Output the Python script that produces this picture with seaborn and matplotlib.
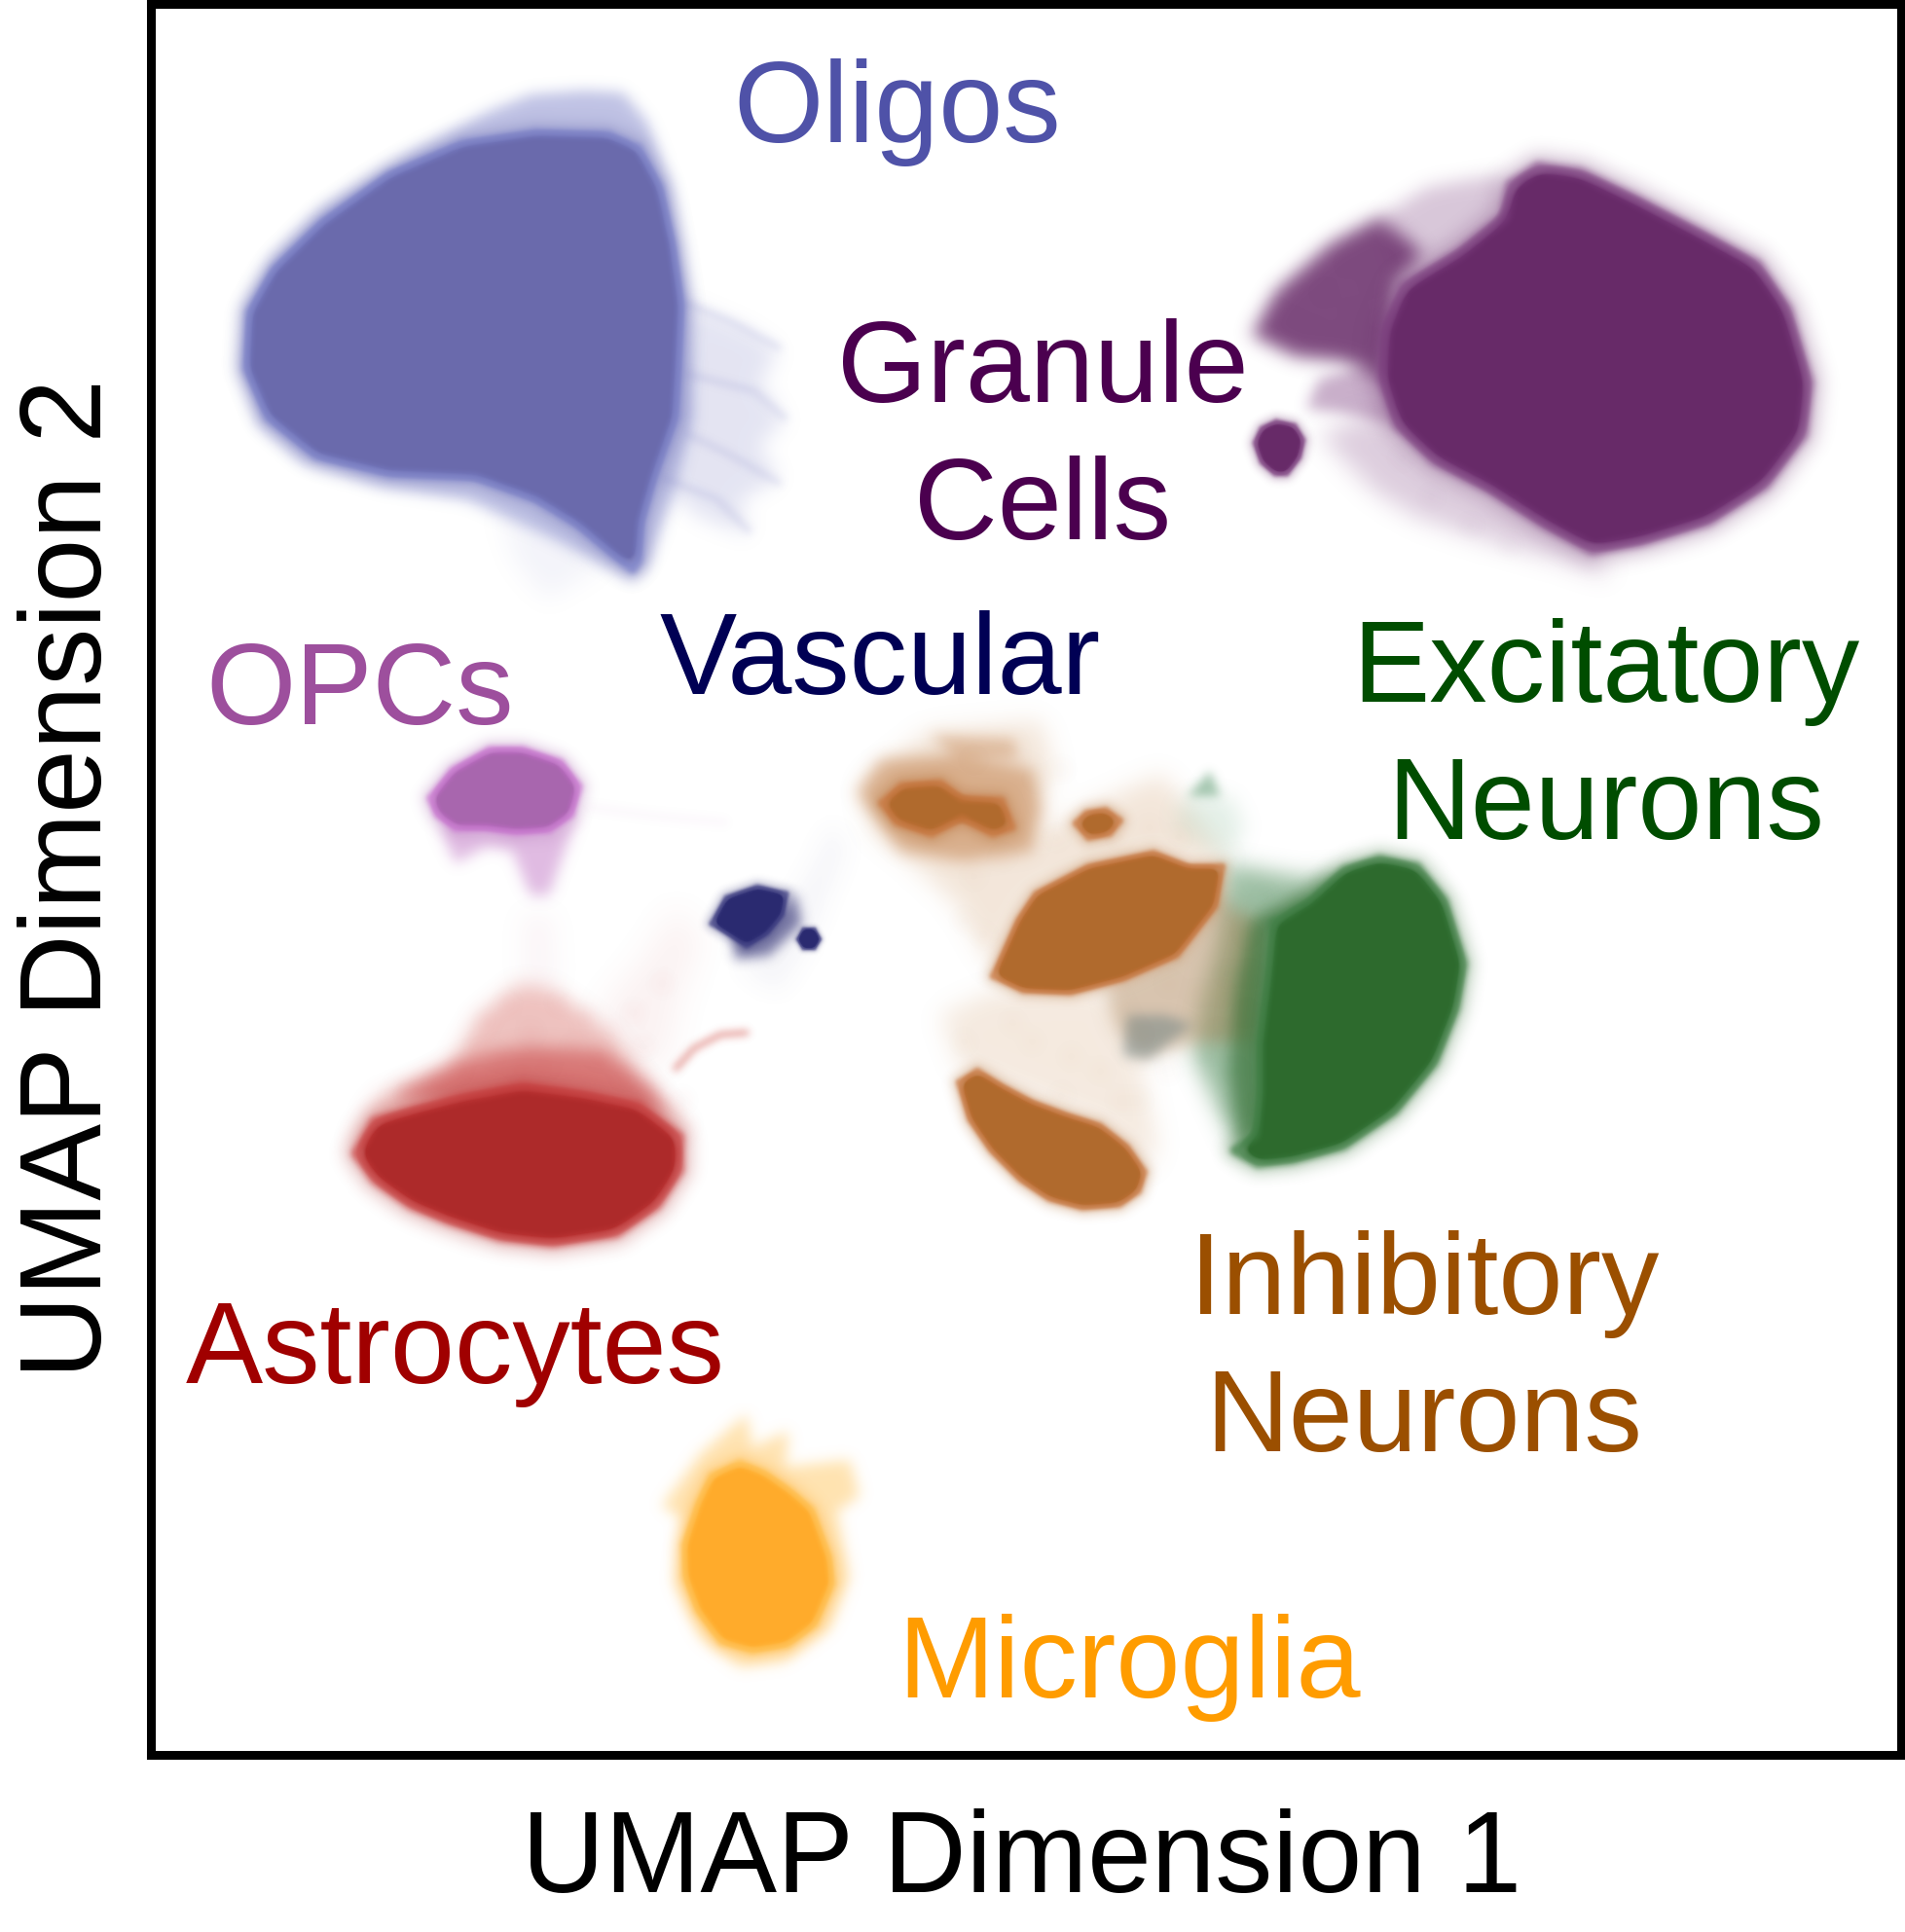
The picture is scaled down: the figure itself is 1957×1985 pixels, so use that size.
import matplotlib
matplotlib.use("Agg")
import matplotlib.pyplot as plt
from matplotlib.colors import to_rgb
import numpy as np
import pandas as pd
import seaborn as sns

# UMAP axes carry no ticks, so outlines are read off the picture in image pixels
X_RANGE = (154.5, 1953)
Y_RANGE = (1802.5, 4)

oligo_core = [(550,136),(625,138),(656,152),(678,192),(691,250),(700,313),(697,379),(694,429),(672,491),(659,536),(656,576),(650,585),(631,571),(594,540),(550,513),(488,491),(400,487),(325,469),(275,429),(253,379),(256,321),(281,277),(331,228),(400,179),(475,147)]
oligo_haze = [(500,115),(545,97),(600,93),(640,95),(665,125),(690,193),(710,314),(712,429),(690,514),(665,582),(650,596),(560,550),(480,514),(390,500),(310,475),(265,436),(245,379),(250,314),(280,264),(330,214),(420,157)]
oligo_right = [(706,312),(769,339),(800,361),(781,393),(806,433),(780,457),(800,493),(760,514),(770,550),(720,532),(680,500)]
oligo_below = [(512,527),(562,536),(625,576),(562,616),(531,580)]
oligo_strands = [
    [(706,312),(750,330),(800,357)],
    [(706,384),(775,402),(806,429)],
    [(706,446),(744,464),(800,496)],
    [(681,491),(737,513),(769,545)],
]

granule_core = [(1580,172),(1624,178),(1680,205),(1743,238),(1805,272),(1836,318),(1858,393),(1852,446),(1813,498),(1755,535),(1686,556),(1636,565),(1586,538),(1530,502),(1474,473),(1436,437),(1420,389),(1423,339),(1442,294),(1499,260),(1545,223),(1552,190)]
granule_wing = [(1286,344),(1311,299),(1367,250),(1417,223),(1461,259),(1436,290),(1424,389),(1380,371),(1330,366)]
granule_top = [(1417,223),(1467,192),(1542,179),(1549,223),(1499,264),(1442,294)]
granule_bridge = [(1355,389),(1424,371),(1436,437),(1380,424),(1342,420)]
granule_lower = [(1355,446),(1417,424),(1480,473),(1586,536),(1636,563),(1655,594),(1605,576),(1524,554),(1455,531),(1411,504)]
granule_small = [(1311,433),(1330,437),(1339,452),(1335,470),(1322,487),(1310,487),(1296,475),(1289,455),(1296,440)]
granule_cells = [(1330,330),(1360,300),(1385,270),(1400,250),(1350,340),(1390,320),(1410,290),(1310,320),(1375,345),(1405,350),(1420,270),(1395,375),(1440,470),(1470,510),(1510,540),(1550,560)]

opc_core = [(442,820),(465,791),(503,770),(537,770),(576,783),(595,808),(587,837),(564,853),(530,855),(499,851),(468,851),(449,837)]
opc_tail = [(449,845),(468,887),(499,870),(526,874),(545,920),(564,920),(583,866),(595,837),(564,853),(499,851)]
opc_trail = [(602,829),(670,838),(744,845)]

astro_core = [(366,1185),(385,1152),(426,1140),(472,1128),(537,1116),(599,1124),(656,1136),(698,1168),(698,1202),(675,1238),(633,1267),(568,1277),(514,1271),(461,1254),(422,1238),(385,1212)]
astro_haze = [(361,1173),(388,1127),(461,1098),(491,1044),(533,1011),(564,1015),(606,1044),(637,1073),(667,1123),(706,1156),(694,1168),(599,1127),(472,1131),(388,1156),(373,1185)]
astro_inner = [(400,1125),(470,1090),(540,1075),(620,1080),(670,1115),(690,1145),(600,1130),(470,1135)]
astro_stream = [(614,1040),(664,982),(694,932),(721,965),(698,1023),(683,1098),(644,1094)]
astro_neck = [(537,940),(568,940),(572,1015),(537,1011)]
astro_hook = [(694,1098),(713,1077),(740,1063),(767,1061)]
astro_cells = [(500,1050),(520,1030),(545,1060),(470,1100),(510,1085),(560,1095),(590,1075),(615,1085),(640,1105),(600,1045),(535,1100),(490,1075),(575,1030),(450,1110),(420,1125),(650,1040),(680,1010),(660,1075),(625,1060),(700,1130)]

vascular_core = [(731,949),(746,922),(778,911),(808,918),(804,940),(788,959),(767,972),(750,961)]
vascular_haze = [(752,959),(801,940),(817,916),(824,949),(790,982),(755,986)]
vascular_dot = [(819,965),(825,954),(837,954),(843,965),(837,975),(825,975)]
vascular_trail = [(760,995),(800,1020),(830,970),(870,870),(855,845),(830,900)]

excit_core = [(1308,948),(1346,925),(1381,893),(1417,882),(1456,890),(1484,925),(1504,990),(1496,1036),(1474,1092),(1433,1142),(1380,1178),(1328,1192),(1292,1196),(1268,1182),(1290,1166),(1294,1124),(1294,1071),(1303,1001)]
excit_haze = [(1261,888),(1341,902),(1381,895),(1346,927),(1310,948),(1305,1001),(1296,1071),(1296,1124),(1292,1166),(1270,1180),(1252,1141),(1225,1085),(1234,1036),(1252,966)]
excit_inner = [(1285,945),(1346,915),(1380,890),(1345,935),(1310,960),(1310,1070),(1300,1170),(1272,1175),(1262,1100),(1268,1020)]
excit_patch = [(1243,792),(1254,818),(1220,818)]
excit_tail = [(1216,818),(1265,818),(1279,850),(1261,885),(1207,846)]
excit_cells = [(1265,930),(1280,960),(1300,920),(1260,1000),(1280,1040),(1250,1060),(1270,1100),(1260,1140),(1280,1130),(1240,1080),(1285,1000),(1330,930),(1360,905),(1390,885)]

inhib_large = [(1020,1003),(1046,945),(1064,918),(1118,890),(1185,876),(1221,890),(1256,890),(1249,931),(1209,982),(1154,1006),(1100,1020),(1051,1018)]
inhib_lower = [(985,1112),(1004,1100),(1030,1116),(1060,1132),(1095,1145),(1130,1156),(1158,1178),(1176,1204),(1170,1224),(1150,1238),(1112,1241),(1078,1232),(1048,1212),(1018,1182),(996,1150)]
inhib_left = [(906,825),(926,807),(966,804),(988,820),(1029,822),(1040,850),(1020,857),(988,841),(957,857),(921,845)]
inhib_left_haze = [(880,815),(905,780),(985,775),(1060,790),(1070,830),(1060,875),(990,885),(925,875)]
inhib_small = [(1105,846),(1116,835),(1136,832),(1151,843),(1140,857),(1118,861)]
inhib_top = [(955,755),(1042,759),(1046,780),(984,780)]
inhib_wide = [(886,804),(953,752),(1069,741),(1082,790),(1060,860),(1127,825),(1194,795),(1261,885),(1252,892),(1185,878),(1064,920),(1046,945),(1024,1001),(984,931),(939,888),(895,853)]
inhib_mid = [(1252,892),(1261,931),(1296,948),(1288,1071),(1229,1071),(1171,1088),(1145,1053),(1136,1015),(1207,980),(1247,931)]
inhib_gap = [(966,1043),(1020,1018),(1136,1015),(1171,1088),(1189,1176),(1180,1204),(1136,1155),(1006,1104),(988,1102)]
inhib_cells = [(1000,900),(1030,880),(1085,860),(1090,790),(1000,780),(1065,800),(990,945),(1010,960),(1210,860),(1180,850),(1150,860),(1200,1010),(1230,1020),(1170,1060),(1255,1020),(1100,1085),(1060,1070),(1040,1050),(990,1070),(1130,1100),(1150,1130),(1090,1125),(1170,1130),(1200,1100)]
mixed_patch = [(1158,1043),(1198,1043),(1225,1053),(1180,1088),(1154,1085)]

micro_core = [(703,1587),(717,1545),(731,1516),(760,1503),(785,1513),(811,1531),(834,1551),(852,1600),(855,1627),(837,1669),(809,1690),(773,1696),(741,1687),(717,1655),(704,1620)]
micro_haze = [(680,1547),(720,1493),(767,1453),(773,1487),(810,1470),(807,1507),(873,1500),(883,1537),(860,1553),(873,1620),(853,1673),(807,1707),(760,1713),(720,1683),(693,1627),(700,1560)]

label_names = ["Oligos", "Granule\nCells", "Vascular", "OPCs", "Excitatory\nNeurons",
               "Inhibitory\nNeurons", "Astrocytes", "Microglia"]
label_x = [922, 1071, 904, 370, 1650, 1463, 468, 1160]
label_y = [146, 554, 713, 744, 862, 1491, 1421, 1744]
label_colors = ["#4f52a8", "#4b004f", "#000054", "#9d4f9d", "#004d00", "#9b4f00", "#a00000", "#ff9c00"]

# faint regions: outline, colour, opacity, blur in pixels, back to front
hazes = [
    (oligo_below, "#8f92cc", 0.10, 12),
    (oligo_right, "#8f92cc", 0.24, 10),
    (oligo_haze, "#7a80c8", 0.48, 7),
    (granule_lower, "#8e5a90", 0.30, 12),
    (granule_bridge, "#7d3f80", 0.42, 7),
    (granule_top, "#8e5a90", 0.34, 9),
    (granule_wing, "#672a68", 0.85, 9),
    (opc_tail, "#c47cc8", 0.52, 7),
    (astro_neck, "#d9a0b8", 0.10, 12),
    (astro_stream, "#d87a7a", 0.10, 16),
    (astro_haze, "#d2544c", 0.36, 10),
    (astro_inner, "#c83c3c", 0.55, 9),
    (vascular_trail, "#7070a8", 0.07, 12),
    (vascular_haze, "#2a2a70", 0.60, 6),
    (inhib_wide, "#d2a070", 0.26, 12),
    (inhib_gap, "#d2a070", 0.22, 12),
    (excit_tail, "#6fae85", 0.18, 10),
    (excit_patch, "#5c9a70", 0.55, 5),
    (excit_haze, "#4c8a58", 0.55, 11),
    (inhib_mid, "#a87c4c", 0.45, 9),
    (excit_inner, "#2d6a2d", 0.60, 8),
    (mixed_patch, "#6a7f80", 0.50, 6),
    (inhib_top, "#c88a58", 0.45, 7),
    (inhib_left_haze, "#c88a58", 0.60, 8),
    (micro_haze, "#ffcc70", 0.55, 7),
]

# dense clusters: outline, colour, edge colour, width of the fuzz in pixels
cores = [
    (oligo_core, "#6a6aac", "#7a80c8", 7),
    (granule_core, "#672a68", "#7d3f80", 9),
    (granule_small, "#672a68", "#7d3f80", 4),
    (opc_core, "#a866ae", "#c86fcf", 6),
    (astro_core, "#ad2a2a", "#c83c3c", 8),
    (vascular_core, "#2a2a70", "#3a3a80", 4),
    (vascular_dot, "#2a2a70", "#3a3a80", 2),
    (excit_core, "#2d6a2d", "#3f7f45", 7),
    (inhib_left, "#b06a2d", "#c8743c", 6),
    (inhib_small, "#b06a2d", "#c8743c", 5),
    (inhib_large, "#b06a2d", "#c8743c", 5),
    (inhib_lower, "#b06a2d", "#c8743c", 5),
    (micro_core, "#ffab2b", "#ffbe4a", 6),
]

# single cells that give the faint regions their grain: points, colour, opacity
cell_groups = [
    (granule_cells, "#672a68", 0.18),
    (astro_cells, "#c83c3c", 0.20),
    (inhib_cells, "#b8783c", 0.18),
    (excit_cells, "#2d6a2d", 0.18),
]

# thin streaks: points, colour, opacity, width
streaks = [(s, "#8f92cc", 0.22, 5) for s in oligo_strands] + [
    (opc_trail, "#d9a8d9", 0.08, 6),
    (astro_hook, "#d2544c", 0.60, 4),
]


def blur(alpha, sigma):
    xs = np.arange(-int(3 * sigma), int(3 * sigma) + 1)
    kernel = np.exp(-xs ** 2 / (2.0 * sigma ** 2))
    kernel /= kernel.sum()
    out = np.apply_along_axis(np.convolve, 0, alpha, kernel, mode="same")
    return np.apply_along_axis(np.convolve, 1, out, kernel, mode="same")


def soft(color, opacity, sigma, gain=1.0):
    """agg filter: blur the artist's coverage, optionally steepen it, paint one colour."""
    rgb = to_rgb(color)

    def apply(im, dpi):
        pad = int(3 * sigma) + 2
        alpha = np.pad(im[:, :, 3], pad)
        alpha = blur(alpha, sigma)
        if gain != 1.0:
            alpha = np.clip((alpha - 0.5) * gain + 0.5, 0, 1)
        out = np.zeros(alpha.shape + (4,))
        out[:, :, :3] = rgb
        out[:, :, 3] = alpha * opacity
        return out, -pad, -pad

    return apply


sns.set_theme(style="white")
plt.rcParams["font.family"] = ["Liberation Sans", "DejaVu Sans"]

W, H = 1958, 1985
fig = plt.figure(figsize=(W / 100, H / 100), dpi=100)
ax = fig.add_axes([X_RANGE[0] / W, 1 - Y_RANGE[0] / H,
                   (X_RANGE[1] - X_RANGE[0]) / W, (Y_RANGE[0] - Y_RANGE[1]) / H])


def to_frame(points, closed=True):
    pts = list(points) + [points[0]] if closed else list(points)
    return pd.DataFrame(pts, columns=["umap1", "umap2"])


def draw_fill(points, color, agg):
    df = to_frame(points)
    ax.fill(df["umap1"], df["umap2"], color=color, lw=0)[0].set_agg_filter(agg)


def draw_line(points, color, width, agg, closed=True):
    sns.lineplot(data=to_frame(points, closed), x="umap1", y="umap2", sort=False, estimator=None,
                 color=color, linewidth=width, ax=ax, legend=False)
    line = ax.lines[-1]
    line.set_solid_joinstyle("round")
    line.set_solid_capstyle("round")
    line.set_agg_filter(agg)


for outline, color, opacity, sigma in hazes:
    draw_fill(outline, color, soft(color, opacity, sigma))

for points, color, opacity in cell_groups:
    df = to_frame(points, closed=False)
    sns.scatterplot(data=df, x="umap1", y="umap2", color=color, s=220, linewidth=0, ax=ax, legend=False)
    ax.collections[-1].set_agg_filter(soft(color, opacity, 5))

for points, color, opacity, width in streaks:
    draw_line(points, color, width, soft(color, opacity, 4), closed=False)

for outline, color, edge, fuzz in cores:
    # wide faint rim, brighter ring, then the solid body
    draw_line(outline, edge, fuzz * 2.2, soft(color, 0.30, fuzz))
    draw_line(outline, edge, fuzz * 0.9, soft(edge, 0.75, max(fuzz * 0.4, 1)))
    draw_fill(outline, color, soft(color, 1.0, max(fuzz * 1.2, 2.5), gain=2.5))

for name, x, y, color in zip(label_names, label_x, label_y, label_colors):
    # y is the baseline of the last line
    ax.text(x, y, name, color=color, fontsize=85.5, ha="center", va="baseline",
            multialignment="center", linespacing=1.35)

ax.set_xlim(*X_RANGE)
ax.set_ylim(*Y_RANGE)
ax.set_xticks([])
ax.set_yticks([])
ax.set_xlabel("UMAP Dimension 1", fontsize=85, color="black", va="baseline")
ax.set_ylabel("UMAP Dimension 2", fontsize=85, color="black", va="baseline")
ax.xaxis.set_label_coords((1050 - X_RANGE[0]) / 1798.5, (Y_RANGE[0] - 1944) / 1798.5)
ax.yaxis.set_label_coords((104 - X_RANGE[0]) / 1798.5, (Y_RANGE[0] - 902) / 1798.5)
for side in ax.spines.values():
    side.set_linewidth(6.5)
    side.set_color("black")

fig.savefig("out.png", dpi=100)
